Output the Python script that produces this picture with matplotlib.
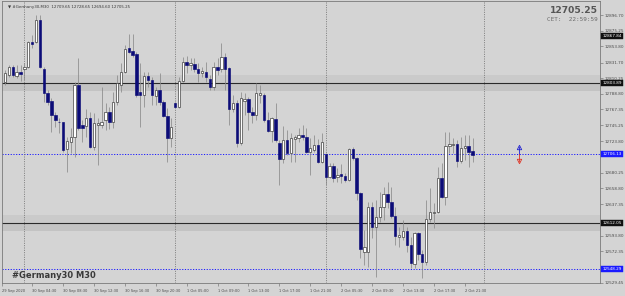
import matplotlib
matplotlib.use("Agg")
import matplotlib.pyplot as plt
import matplotlib.transforms as mtransforms
import numpy as np

# ---------------- data (M30 candles, #Germany30) ----------------
opens = [12805.0, 12814.6, 12825.5, 12813.2, 12818.0, 12822.8, 12825.5, 12859.9, 12859.9, 12890.1,
         12822.8, 12789.9, 12778.9, 12759.7, 12750.7, 12749.4, 12713.0, 12722.6, 12729.5, 12800.8,
         12745.9, 12744.6, 12755.5, 12715.7, 12745.9, 12745.9, 12752.8, 12763.8, 12750.1, 12777.5,
         12800.8, 12818.7, 12851.6, 12847.5, 12843.4, 12791.2, 12787.1, 12813.2, 12807.7, 12785.7,
         12794.0, 12777.5, 12758.3, 12728.1, 12776.1, 12770.6, 12806.3, 12832.4, 12828.3, 12829.7,
         12822.8, 12817.3, 12818.7, 12809.1, 12798.1, 12825.5, 12822.8, 12839.3, 12824.2, 12767.9,
         12776.1, 12721.2, 12778.9, 12781.6, 12763.8, 12759.7, 12787.1, 12787.1, 12752.8, 12737.7,
         12754.2, 12721.2, 12699.3, 12725.4, 12707.5, 12726.7, 12728.1, 12732.2, 12729.5, 12708.9,
         12711.6, 12718.5, 12695.2, 12706.1, 12674.6, 12689.7, 12674.6, 12678.7, 12675.9, 12670.5,
         12713.0, 12700.6, 12652.6, 12571.6, 12571.6, 12633.4, 12605.9, 12619.7, 12633.4, 12651.2,
         12640.3, 12621.0, 12592.2, 12592.2, 12600.5, 12581.2, 12555.2, 12597.7, 12568.9, 12557.9,
         12616.9, 12625.2, 12626.5, 12673.2, 12647.1, 12717.1, 12718.5, 12719.9, 12696.5, 12714.4,
         12717.1, 12709.65]
highs = [12821.4, 12828.3, 12828.3, 12828.3, 12828.3, 12831.0, 12861.2, 12869.5, 12896.9, 12896.9,
         12825.5, 12794.0, 12783.0, 12763.8, 12755.5, 12750.7, 12729.5, 12741.8, 12805.0, 12837.9,
         12752.8, 12767.9, 12763.8, 12762.4, 12755.5, 12798.1, 12776.1, 12770.6, 12791.2, 12814.6,
         12831.0, 12855.7, 12870.8, 12870.8, 12846.1, 12831.0, 12818.7, 12818.7, 12811.8, 12798.1,
         12817.3, 12780.3, 12769.3, 12755.5, 12777.5, 12811.8, 12839.3, 12840.6, 12837.9, 12837.9,
         12831.0, 12825.5, 12832.4, 12814.6, 12832.4, 12837.9, 12858.5, 12844.8, 12825.5, 12787.1,
         12780.3, 12791.2, 12789.9, 12784.4, 12770.6, 12803.6, 12800.8, 12789.9, 12763.8, 12756.9,
         12776.1, 12725.4, 12744.6, 12739.1, 12735.0, 12732.2, 12741.8, 12745.9, 12741.8, 12728.1,
         12732.2, 12726.7, 12735.0, 12707.5, 12693.8, 12693.8, 12686.9, 12692.4, 12680.1, 12714.4,
         12715.7, 12702.0, 12654.0, 12601.8, 12640.3, 12640.3, 12643.0, 12654.0, 12660.8, 12667.7,
         12660.8, 12633.4, 12605.9, 12615.6, 12605.9, 12592.2, 12599.1, 12599.1, 12574.4, 12643.0,
         12659.5, 12638.9, 12688.3, 12693.8, 12736.3, 12736.3, 12728.1, 12725.4, 12729.5, 12732.2,
         12732.2, 12728.65]
lows = [12800.8, 12811.8, 12811.8, 12810.4, 12806.3, 12807.7, 12824.2, 12851.6, 12858.5, 12824.2,
        12777.5, 12773.4, 12736.3, 12743.2, 12735.0, 12708.9, 12681.4, 12707.5, 12702.0, 12739.1,
        12722.6, 12729.5, 12714.4, 12711.6, 12691.0, 12741.8, 12739.1, 12740.5, 12741.8, 12773.4,
        12791.2, 12817.3, 12844.8, 12839.3, 12784.4, 12743.2, 12770.6, 12798.1, 12773.4, 12773.4,
        12773.4, 12756.9, 12695.2, 12715.7, 12769.3, 12769.3, 12805.0, 12817.3, 12821.4, 12818.7,
        12805.0, 12811.8, 12805.0, 12794.0, 12794.0, 12814.6, 12818.7, 12794.0, 12745.9, 12763.8,
        12715.7, 12718.5, 12759.7, 12739.1, 12748.7, 12752.8, 12776.1, 12750.1, 12736.3, 12722.6,
        12722.6, 12663.6, 12693.8, 12704.8, 12695.2, 12695.2, 12722.6, 12725.4, 12707.5, 12677.3,
        12708.9, 12693.8, 12693.8, 12663.6, 12673.2, 12667.7, 12667.7, 12666.3, 12667.7, 12669.1,
        12697.9, 12643.0, 12563.4, 12553.8, 12551.0, 12590.8, 12537.3, 12612.8, 12615.6, 12632.0,
        12618.3, 12581.2, 12578.5, 12588.1, 12571.6, 12549.7, 12549.7, 12560.7, 12535.9, 12553.8,
        12612.8, 12604.6, 12625.2, 12645.7, 12636.1, 12707.5, 12707.5, 12688.3, 12693.8, 12697.9,
        12688.3, 12694.60]
closes = [12817.3, 12825.5, 12814.6, 12818.7, 12816.6, 12825.5, 12859.9, 12857.1, 12890.1, 12825.5,
          12789.9, 12777.5, 12759.7, 12752.8, 12749.4, 12711.6, 12724.0, 12729.5, 12800.8, 12741.8,
          12741.8, 12755.5, 12715.7, 12748.7, 12748.7, 12750.1, 12763.8, 12750.1, 12777.5, 12803.6,
          12818.7, 12850.3, 12846.1, 12842.0, 12787.1, 12787.1, 12813.2, 12807.7, 12787.1, 12794.0,
          12777.5, 12758.3, 12728.1, 12743.2, 12770.6, 12806.3, 12832.4, 12828.3, 12831.0, 12822.8,
          12817.3, 12820.1, 12811.8, 12798.1, 12825.5, 12821.4, 12839.3, 12822.8, 12767.9, 12776.1,
          12721.2, 12783.0, 12781.6, 12763.8, 12759.7, 12789.9, 12789.9, 12752.8, 12737.7, 12755.5,
          12725.4, 12699.3, 12725.4, 12707.5, 12728.1, 12729.5, 12732.2, 12729.5, 12708.9, 12714.4,
          12718.5, 12695.2, 12722.6, 12674.6, 12689.7, 12673.2, 12677.3, 12675.9, 12670.5, 12713.0,
          12700.6, 12652.6, 12575.8, 12578.5, 12633.4, 12605.9, 12619.7, 12633.4, 12651.2, 12640.3,
          12621.0, 12593.6, 12595.0, 12600.5, 12581.2, 12556.5, 12597.7, 12568.9, 12557.9, 12616.9,
          12626.5, 12626.5, 12673.2, 12647.1, 12717.1, 12719.9, 12719.9, 12696.5, 12714.4, 12717.1,
          12708.9, 12705.25]

time_tick_bars = [7, 15, 23, 31, 39, 47, 55, 63, 71, 79, 87, 95, 103, 111, 119]
time_tick_labels = ["30 Sep 04:30", "30 Sep 08:30", "30 Sep 12:30", "30 Sep 16:30", "30 Sep 20:30",
                    "1 Oct 05:00", "1 Oct 09:00", "1 Oct 13:00", "1 Oct 17:00", "1 Oct 21:00",
                    "2 Oct 05:30", "2 Oct 09:30", "2 Oct 13:30", "2 Oct 17:30", "2 Oct 21:30"]
first_date_label = "29 Sep 2020"
day_separator_bars = [5, 44, 83, 124]

price_ticks = [12896.70, 12875.25, 12853.80, 12831.70, 12810.25, 12788.80, 12767.35, 12745.25,
               12723.80, 12680.25, 12658.80, 12637.35, 12593.80, 12572.35, 12529.45]

black_levels = [12803.89, 12612.05]
black_tag_levels = [12867.84, 12803.89, 12612.05]
blue_levels = [12706.13, 12548.29]
zones = [(12792.6, 12803.89, 12814.6), (12600.5, 12612.05, 12622.4)]

symbol = "#Germany30"
timeframe = "M30"
last_price = 12705.25
server_time = "CET:  22:59:59"

# ---------------- figure ----------------
W, H = 625, 296
BG = "#d4d4d4"
fig = plt.figure(figsize=(W / 100, H / 100), dpi=100, facecolor=BG)
ax = fig.add_axes([2 / W, (H - 283) / H, 598 / W, 282 / H], facecolor=BG)

n = len(opens)
idx = np.arange(n)
o = np.array(opens); c = np.array(closes); hi = np.array(highs); lo = np.array(lows)

ax.set_xlim(-0.8, 154.0)
ax.set_ylim(12529.1, 12916.1)

# zones
for zlo, zmid, zhi in zones:
    ax.axhspan(zmid, zhi, color="#cacaca", lw=0, zorder=0.5)
    ax.axhspan(zlo, zmid, color="#c3c3c3", lw=0, zorder=0.5)
for lv in black_levels:
    ax.axhline(lv, color="#2a2a2a", lw=0.8, zorder=1)
for lv in blue_levels:
    ax.axhline(lv, color="#1a1aff", lw=0.7, ls=(0, (1.2, 1.6)), zorder=1)

# day separators
for b in day_separator_bars:
    ax.axvline(b, color="#707070", lw=0.6, ls=(0, (1.2, 1.6)), zorder=1)

# candles
ax.vlines(idx, lo, hi, color="#8a8a8a", lw=0.55, zorder=2)
bull = c >= o
bottoms = np.minimum(o, c)
heights = np.maximum(np.abs(c - o), 0.8)
faces = np.where(bull, "#ffffff", "#0c0c78")
edges = np.where(bull, "#303030", "#0c0c78")
ax.bar(idx, heights, bottom=bottoms, width=0.62, color=faces, edgecolor=edges,
       linewidth=0.45, zorder=3)

# trade-level arrow icon
ax.plot([133, 133], [12706.5, 12716.0], color="#2020d0", lw=0.6, zorder=4)
ax.plot([133], [12716.0], marker="^", ms=3.2, mfc="none", mec="#2020d0", mew=0.6, zorder=4)
ax.plot([133, 133], [12697.0, 12706.0], color="#e03020", lw=0.6, zorder=4)
ax.plot([133], [12697.0], marker="v", ms=3.2, mfc="none", mec="#e03020", mew=0.6, zorder=4)

# spines
for s in ax.spines.values():
    s.set_color("#7a7a7a")
    s.set_linewidth(0.6)

# y axis on right
ax.yaxis.tick_right()
ax.set_yticks(price_ticks)
ax.set_yticklabels([f"{p:.2f}" for p in price_ticks])
ax.tick_params(axis="y", length=2, width=0.5, color="#7a7a7a", pad=1,
               labelsize=3.0, labelcolor="#4a4a4a")

# x axis
ax.set_xticks([-0.8] + time_tick_bars)
ax.set_xticklabels([first_date_label] + time_tick_labels, ha="left")
ax.tick_params(axis="x", length=2.5, width=0.5, color="#7a7a7a", pad=1.5,
               labelsize=2.6, labelcolor="#4a4a4a")

# highlighted price tags
tr = mtransforms.blended_transform_factory(ax.transAxes, ax.transData)
for lv in black_tag_levels:
    ax.text(1.004, lv, f"{lv:.2f}", transform=tr, fontsize=3.0, color="white",
            va="center", ha="left", zorder=6, clip_on=False,
            bbox=dict(boxstyle="square,pad=0.25", fc="#101010", ec="#101010", lw=0.3))
for lv in blue_levels:
    ax.text(1.004, lv, f"{lv:.2f}", transform=tr, fontsize=3.0, color="white",
            va="center", ha="left", zorder=6, clip_on=False,
            bbox=dict(boxstyle="square,pad=0.25", fc="#1a1aff", ec="#1a1aff", lw=0.3))

# texts
ax.text(0.010, 0.985,
        f"\u25bc {symbol},{timeframe}  {opens[-1]:.2f} {highs[-1]:.2f} {lows[-1]:.2f} {closes[-1]:.2f}",
        transform=ax.transAxes, fontsize=2.9, color="#3a3a3a", va="top", ha="left", zorder=7)
ax.text(0.997, 0.983, f"{last_price:.2f}", transform=ax.transAxes, fontsize=6.6,
        fontweight="bold", color="#555555", va="top", ha="right", zorder=7)
ax.text(0.997, 0.945, server_time, transform=ax.transAxes, fontsize=4.3,
        color="#6a6a6a", va="top", ha="right", zorder=7, family="DejaVu Sans Mono")
ax.text(0.017, 0.012, f"{symbol} {timeframe}", transform=ax.transAxes, fontsize=6.0,
        fontweight="bold", color="#3a3a3a", va="bottom", ha="left", zorder=7)

fig.savefig("out.png", dpi=100, facecolor=BG)
